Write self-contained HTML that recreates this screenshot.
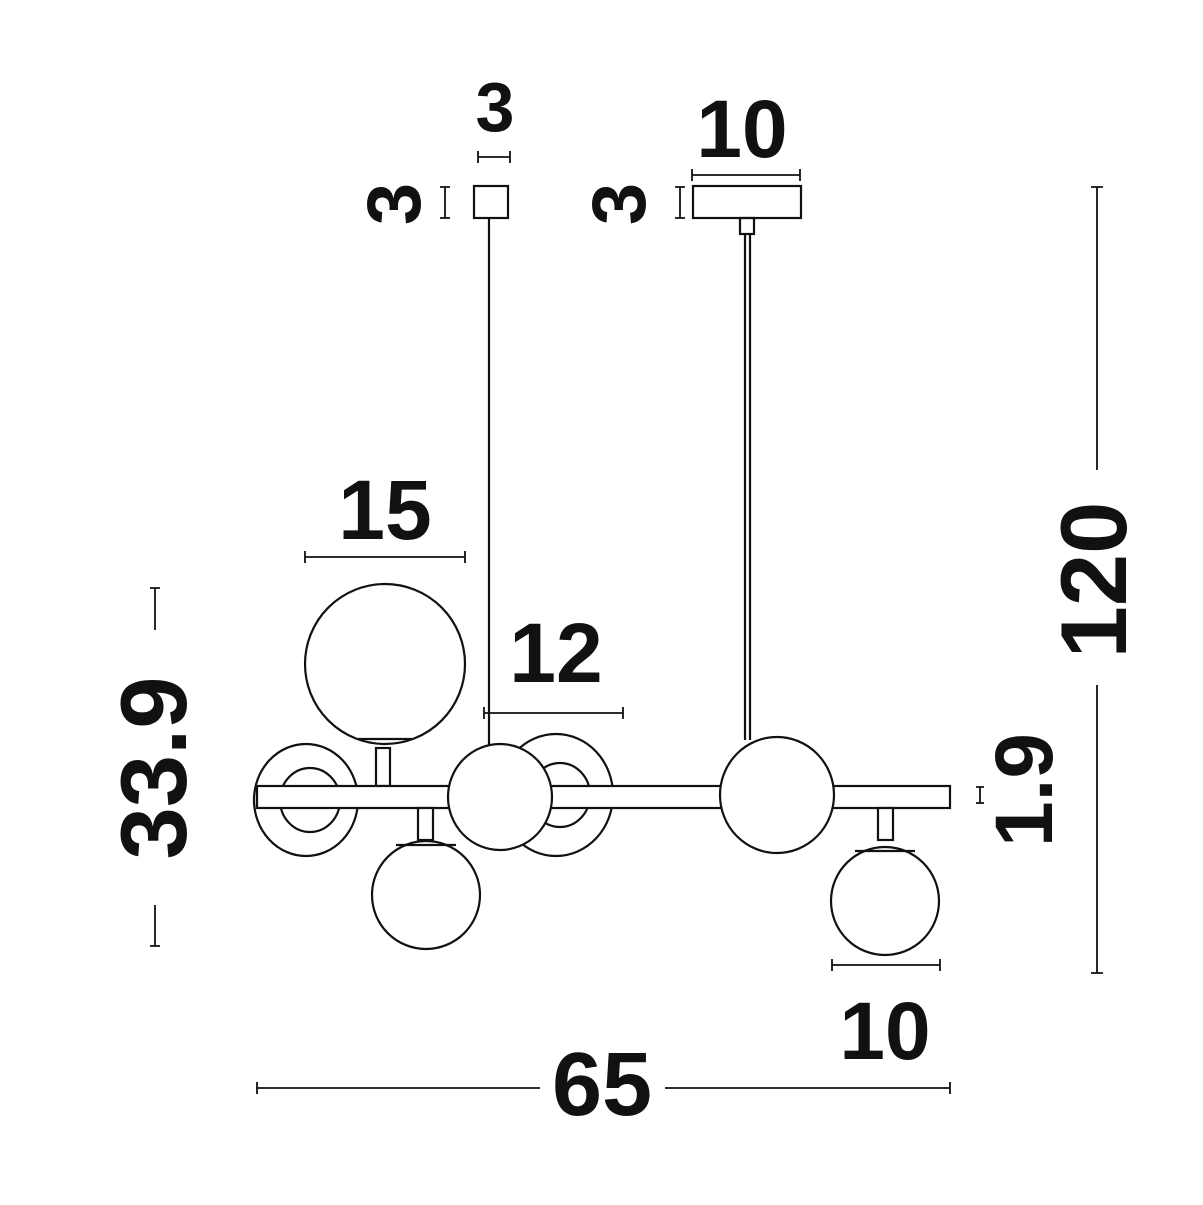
<!DOCTYPE html>
<html><head><meta charset="utf-8"><style>html,body{margin:0;padding:0;background:#fff}</style></head>
<body>
<svg width="1203" height="1200" viewBox="0 0 1203 1200" xmlns="http://www.w3.org/2000/svg">
<g fill="none" stroke="#111" stroke-width="2.2">
<rect x="474" y="186" width="34" height="32"/>
<rect x="693" y="186" width="108" height="32"/>
<rect x="740" y="218" width="14" height="16"/>
<line x1="489" y1="218" x2="489" y2="746"/>
<line x1="745" y1="234" x2="745" y2="740"/>
<line x1="750" y1="234" x2="750" y2="740"/>
<ellipse cx="306" cy="800" rx="52" ry="56" fill="#fff"/>
<ellipse cx="310" cy="800" rx="30" ry="32"/>
<ellipse cx="556" cy="795" rx="57" ry="61" fill="#fff"/>
<ellipse cx="560" cy="795" rx="30" ry="32"/>
<rect x="376" y="748" width="14" height="38" fill="#fff"/>
<circle cx="385" cy="664" r="80" fill="#fff"/>
<line x1="358" y1="739" x2="412" y2="739"/>
<rect x="257" y="786" width="693" height="22" fill="#fff"/>
<rect x="418" y="808" width="15" height="32" fill="#fff"/>
<rect x="878" y="808" width="15" height="32" fill="#fff"/>
<circle cx="426" cy="895" r="54" fill="#fff"/>
<line x1="396" y1="845" x2="456" y2="845"/>
<circle cx="885" cy="901" r="54" fill="#fff"/>
<line x1="855" y1="851" x2="915" y2="851"/>
<ellipse cx="500" cy="797" rx="52" ry="53" fill="#fff"/>
<ellipse cx="777" cy="795" rx="57" ry="58" fill="#fff"/>
</g>
<g stroke="#111" stroke-width="1.8" fill="none">
<path d="M478 157H510M478 151V163M510 151V163"/>
<path d="M692 175H800M692 169V181M800 169V181"/>
<path d="M445 187V218M440 187H450M440 218H450"/>
<path d="M680 187V218M675 187H685M675 218H685"/>
<path d="M305 557H465M305 551V563M465 551V563"/>
<path d="M484 713H623M484 707V719M623 707V719"/>
<path d="M155 588V630M150 588H160M155 905V946M150 946H160"/>
<path d="M980 787V803M976 787H984M976 803H984"/>
<path d="M1097 187V470M1091 187H1103M1097 685V973M1091 973H1103"/>
<path d="M832 965H940M832 959V971M940 959V971"/>
<path d="M257 1088H540M257 1082V1094M665 1088H950M950 1082V1094"/>
</g>
<g font-family="Liberation Sans, sans-serif" font-weight="bold" fill="#111" text-anchor="middle">
<text x="495" y="131" font-size="70">3</text>
<text x="742" y="157" font-size="82">10</text>
<text x="385" y="539" font-size="84">15</text>
<text x="556" y="682" font-size="84">12</text>
<text x="885" y="1059" font-size="82">10</text>
<text x="602" y="1115" font-size="90">65</text>
<text transform="translate(420,204) rotate(-90)" font-size="76">3</text>
<text transform="translate(645,204) rotate(-90)" font-size="76">3</text>
<text transform="translate(186,768) rotate(-90)" font-size="94">33.9</text>
<text transform="translate(1052,790) rotate(-90)" font-size="82">1.9</text>
<text transform="translate(1126,580) rotate(-90)" font-size="94">120</text>
</g>
</svg>
</body></html>
